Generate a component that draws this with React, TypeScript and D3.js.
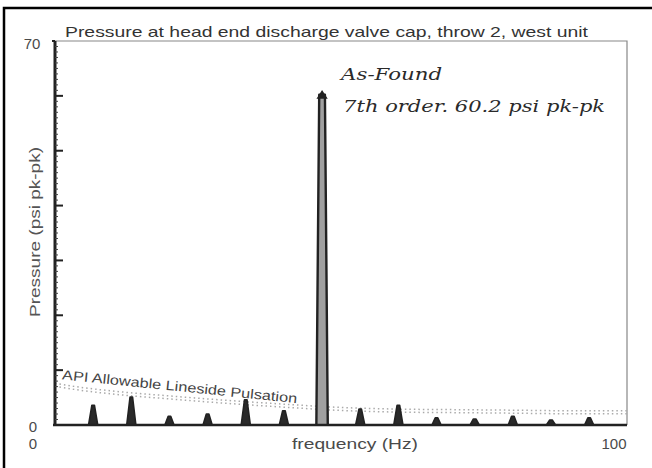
import * as d3 from 'd3';
import { useEffect, useRef } from 'react';

const WIDTH = 652;
const HEIGHT = 468;

// harmonics of running speed (order n -> n * fundamental Hz)
const FUNDAMENTAL_HZ = 6.67;
const harmonicOrders = [1, 2, 3, 4, 5, 6, 7, 8, 9, 10, 11, 12, 13, 14];
const harmonicAmps = [3.6, 5.1, 1.6, 2.0, 4.6, 2.6, 60.2, 2.9, 3.6, 1.3, 1.1, 1.6, 0.9, 1.3];

// API 618 allowable lineside pulsation curve
const apiFreq = [0, 5, 10, 20, 30, 40, 50, 60, 70, 80, 90, 100];
const apiLimit = [7.6, 6.8, 6.2, 5.3, 4.5, 3.8, 3.2, 2.9, 2.8, 2.7, 2.6, 2.6];

const yTicks = [10, 20, 30, 40, 50, 60];

const TITLE = 'Pressure at head end discharge valve cap, throw 2, west unit';
const Y_LABEL = 'Pressure (psi pk-pk)';
const X_LABEL = 'frequency (Hz)';
const API_LABEL = 'API Allowable Lineside Pulsation';
const NOTE_ONE = 'As-Found';
const NOTE_TWO = '7th order. 60.2 psi pk-pk';

const App = () => {
    const svgRef = useRef<SVGSVGElement | null>(null);

    useEffect(() => {
        if (!svgRef.current) return;
        const svg = d3.select(svgRef.current);
        svg.selectAll('*').remove();

        const margin = { top: 41, right: 25, bottom: 43, left: 55 };
        const innerWidth = WIDTH - margin.left - margin.right;
        const innerHeight = HEIGHT - margin.top - margin.bottom;

        const x = d3.scaleLinear().domain([0, 100]).range([0, innerWidth]);
        const y = d3.scaleLinear().domain([0, 70]).range([innerHeight, 0]);

        svg.append('rect').attr('width', WIDTH).attr('height', HEIGHT).attr('fill', '#fff');

        // outer frame of the scanned figure
        svg.append('rect')
            .attr('x', 4)
            .attr('y', 8)
            .attr('width', WIDTH + 20)
            .attr('height', HEIGHT + 20)
            .attr('fill', 'none')
            .attr('stroke', '#000')
            .attr('stroke-width', 2.5);

        const g = svg.append('g').attr('transform', `translate(${margin.left},${margin.top})`);
        const font = 'Arial, "Liberation Sans", sans-serif';

        // thin top / right frame
        g.append('path')
            .attr('d', `M0,0H${innerWidth}V${innerHeight}`)
            .attr('fill', 'none')
            .attr('stroke', '#888')
            .attr('stroke-width', 1.2);

        // API allowable curve (dotted band)
        const apiLine = d3
            .line<number>()
            .x((_, i) => x(apiFreq[i]))
            .y((d) => y(d))
            .curve(d3.curveMonotoneX);
        [0, 3].forEach((off) => {
            g.append('path')
                .attr('d', apiLine(apiLimit))
                .attr('transform', `translate(0,${off})`)
                .attr('fill', 'none')
                .attr('stroke', '#aaa')
                .attr('stroke-width', 1.5)
                .attr('stroke-dasharray', '1.5,3');
        });

        g.append('text')
            .attr('transform', `translate(${x(1.2)},${y(7.6) - 4}) rotate(5.8)`)
            .attr('font-family', font)
            .attr('font-size', 13.5)
            .attr('fill', '#444')
            .attr('textLength', 236)
            .attr('lengthAdjust', 'spacingAndGlyphs')
            .text(API_LABEL);

        // spectrum peaks
        const peakLine = d3
            .line<[number, number]>()
            .x((d) => x(d[0]))
            .y((d) => y(d[1]));

        harmonicOrders.forEach((n, i) => {
            const f = n * FUNDAMENTAL_HZ;
            const a = harmonicAmps[i];
            const big = a > 30;
            const hw = big ? 1.0 : 0.8;
            const tw = big ? 0.5 : 0.22;
            const pts: [number, number][] = [
                [f - hw, 0],
                [f - tw, a],
                [f + tw, a],
                [f + hw, 0],
            ];
            g.append('path')
                .attr('d', peakLine(pts))
                .attr('fill', big ? '#a0a0a0' : '#2a2a2a')
                .attr('stroke', '#222')
                .attr('stroke-width', big ? 2.4 : 1.6)
                .attr('stroke-linejoin', 'round');
            if (big) {
                // arrow head on the as-found peak
                const head: [number, number][] = [
                    [f - 0.75, a - 0.6],
                    [f, a + 0.6],
                    [f + 0.75, a - 0.6],
                ];
                g.append('path')
                    .attr('d', peakLine(head) + 'Z')
                    .attr('fill', '#222')
                    .attr('stroke', '#222')
                    .attr('stroke-width', 1.5);
            }
        });

        // bottom axis
        g.append('line')
            .attr('x1', -2)
            .attr('x2', innerWidth)
            .attr('y1', innerHeight)
            .attr('y2', innerHeight)
            .attr('stroke', '#222')
            .attr('stroke-width', 2.5);

        // left axis
        g.append('line')
            .attr('x1', 0)
            .attr('x2', 0)
            .attr('y1', 0)
            .attr('y2', innerHeight + 1)
            .attr('stroke', '#222')
            .attr('stroke-width', 3);

        g.selectAll('.minor')
            .data(d3.range(1, 70))
            .join('line')
            .attr('class', 'minor')
            .attr('x1', 0)
            .attr('x2', 3)
            .attr('y1', (d) => y(d))
            .attr('y2', (d) => y(d))
            .attr('stroke', '#444')
            .attr('stroke-width', 1);

        g.selectAll('.major')
            .data(yTicks)
            .join('line')
            .attr('class', 'major')
            .attr('x1', 0)
            .attr('x2', 8)
            .attr('y1', (d) => y(d))
            .attr('y2', (d) => y(d))
            .attr('stroke', '#222')
            .attr('stroke-width', 2);

        g.append('line')
            .attr('x1', -3)
            .attr('x2', 0)
            .attr('y1', 0)
            .attr('y2', 0)
            .attr('stroke', '#222')
            .attr('stroke-width', 2);

        // labels
        const label = (tx: number, ty: number, txt: string, anchor = 'middle') =>
            svg
                .append('text')
                .attr('x', tx)
                .attr('y', ty)
                .attr('text-anchor', anchor)
                .attr('font-family', font)
                .attr('font-size', 15)
                .attr('fill', '#4a4a4a')
                .text(txt);

        label(32, margin.top + y(70) + 8, '70');
        label(33, margin.top + y(0) + 7, '0');
        label(33, 449, '0');
        label(355, 449, X_LABEL).attr('textLength', 126).attr('lengthAdjust', 'spacingAndGlyphs');
        label(614, 449, '100');

        svg.append('text')
            .attr('transform', `translate(40,${232}) rotate(-90)`)
            .attr('text-anchor', 'middle')
            .attr('font-family', font)
            .attr('font-size', 15)
            .attr('fill', '#555')
            .attr('textLength', 170)
            .attr('lengthAdjust', 'spacingAndGlyphs')
            .text(Y_LABEL);

        svg.append('text')
            .attr('x', 65)
            .attr('y', 37)
            .attr('font-family', font)
            .attr('font-size', 15)
            .attr('fill', '#333')
            .attr('textLength', 523)
            .attr('lengthAdjust', 'spacingAndGlyphs')
            .text(TITLE);

        const noteX = margin.left + x(46.7) + 19;
        svg.append('text')
            .attr('x', noteX)
            .attr('y', 80)
            .attr('font-family', '"DejaVu Serif", serif')
            .attr('font-style', 'italic')
            .attr('font-size', 17)
            .attr('fill', '#2a2a2a')
            .attr('textLength', 101)
            .attr('lengthAdjust', 'spacingAndGlyphs')
            .text(NOTE_ONE);
        svg.append('text')
            .attr('x', noteX + 2)
            .attr('y', 112)
            .attr('font-family', '"DejaVu Serif", serif')
            .attr('font-style', 'italic')
            .attr('font-size', 17)
            .attr('fill', '#2a2a2a')
            .attr('textLength', 262)
            .attr('lengthAdjust', 'spacingAndGlyphs')
            .text(NOTE_TWO);
    }, []);

    return (
        <div style={{ position: 'absolute', left: 0, top: 0, width: WIDTH, height: HEIGHT, overflow: 'hidden' }}>
            <svg ref={svgRef} width={WIDTH} height={HEIGHT} style={{ display: 'block' }}></svg>
        </div>
    );
};

export default App;
